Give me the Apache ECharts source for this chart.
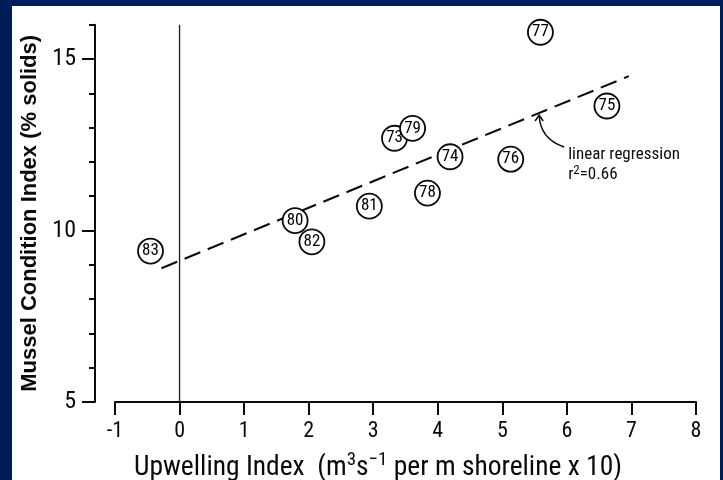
<!DOCTYPE html>
<html>
<head>
<meta charset="utf-8">
<script src="https://cdn.jsdelivr.net/npm/echarts@6/dist/echarts.min.js"></script>
<style>
  html, body { margin: 0; padding: 0; width: 723px; height: 480px; background: #001d59; overflow: hidden; }
  #panel { position: absolute; left: 12px; top: 6px; width: 708px; height: 474px; background: #ffffff; }
</style>
</head>
<body>
<div id="panel"></div>
<script>
// Yearly observations (19xx): upwelling index vs. mussel condition index
const years     = ['73', '74', '75', '76', '77', '78', '79', '80', '81', '82', '83'];
const upwelling = [3.33, 4.19, 6.62, 5.13, 5.59, 3.84, 3.61, 1.79, 2.94, 2.05, -0.45];
const condition = [12.69, 12.15, 13.63, 12.08, 15.78, 11.09, 12.98, 10.29, 10.71, 9.67, 9.40];

// Regression line end points
const fitX = [-0.28, 6.96];
const fitY = [8.90, 14.50];
const fitNoteX = 5.57;           // where the annotation arrow touches the line
const fitNote = ['linear regression', 'r{sup|2}=0.66'];

// Axis ticks
const xRange = [-1, 8];
const yRange = [5, 16];
const yMajorTicks = [5, 10, 15];
const yMinorTicks = [6, 7, 8, 9, 11, 12, 13, 14, 16];
const zeroLine = [[0, 5], [0, 16]];

const INK = '#0a0a0a';
const COND = '"Roboto Condensed", "Liberation Sans", Arial, sans-serif';
const SANS = '"Liberation Sans", Arial, sans-serif';

const chart = echarts.init(document.getElementById('panel'), null, { renderer: 'canvas' });

const points = years.map((y, i) => [upwelling[i], condition[i], y]);

chart.setOption({
  animation: false,
  backgroundColor: '#ffffff',
  grid: { left: 103, right: 24, top: 18.7, bottom: 78, containLabel: false, outerBoundsMode: 'none' },
  xAxis: {
    type: 'value', min: xRange[0], max: xRange[1], interval: 1,
    axisLine: { show: true, onZero: false, lineStyle: { color: INK, width: 2 } },
    axisTick: { show: true, length: 13, lineStyle: { color: INK, width: 2 } },
    axisLabel: { fontSize: 22, fontFamily: COND, color: INK, margin: 18 },
    splitLine: { show: false },
    name: 'Upwelling Index  (m{sup|3}s{sup|\u22121} per m shoreline x 10)',
    nameLocation: 'middle', nameGap: 49,
    nameTextStyle: {
      fontSize: 27.5, fontFamily: COND, color: INK, padding: [0, 55, 0, 0],
      rich: { sup: { fontSize: 19, fontFamily: COND, color: INK, padding: [0, 0, 15, 0] } }
    }
  },
  yAxis: [
    {
      type: 'value', min: yRange[0], max: yRange[1], position: 'left', offset: 20,
      axisLine: { show: true, onZero: false, lineStyle: { color: INK, width: 2 } },
      axisTick: { show: true, customValues: yMajorTicks, length: 13, lineStyle: { color: INK, width: 2 } },
      axisLabel: { customValues: yMajorTicks, fontSize: 24, fontFamily: COND, color: INK, margin: 19 },
      splitLine: { show: false },
      name: 'Mussel Condition Index (% solids)',
      nameLocation: 'middle', nameGap: 46,
      nameTextStyle: { fontSize: 22, fontWeight: 'bold', fontFamily: SANS, color: INK }
    },
    {
      type: 'value', min: yRange[0], max: yRange[1], position: 'left', offset: 20,
      axisLine: { show: false, onZero: false },
      axisTick: { show: true, customValues: yMinorTicks, length: 6, lineStyle: { color: INK, width: 2 } },
      axisLabel: { show: false },
      splitLine: { show: false }
    }
  ],
  series: [
    {
      name: 'zero', type: 'line', data: zeroLine, symbol: 'none', silent: true,
      lineStyle: { color: '#1a1a1a', width: 1.3 }, z: 1
    },
    {
      name: 'fit', type: 'line', data: fitX.map((x, i) => [x, fitY[i]]), symbol: 'none', silent: true,
      lineStyle: { color: INK, width: 2, type: [17, 8] }, z: 2
    },
    {
      name: 'years', type: 'scatter', data: points, symbol: 'circle', symbolSize: 25,
      itemStyle: { color: '#ffffff', borderColor: INK, borderWidth: 1.8, opacity: 1 },
      label: {
        show: true, position: 'inside', formatter: p => p.value[2],
        fontSize: 17, fontFamily: COND, color: '#000000'
      },
      z: 3
    }
  ]
});

// Curved arrow and caption pointing at the regression line
const slope = (fitY[1] - fitY[0]) / (fitX[1] - fitX[0]);
const tip = chart.convertToPixel({ gridIndex: 0 }, [fitNoteX, fitY[0] + slope * (fitNoteX - fitX[0])]);
const tx = tip[0], ty = tip[1] + 2;

chart.setOption({
  graphic: [
    {
      type: 'bezierCurve', silent: true,
      shape: { x1: tx, y1: ty, x2: tx + 25, y2: ty + 32, cpx1: tx + 1, cpy1: ty + 24 },
      style: { stroke: INK, lineWidth: 1.5, fill: null }
    },
    {
      type: 'polyline', silent: true,
      shape: { points: [[tx - 4, ty + 6], [tx, ty], [tx + 4, ty + 6]] },
      style: { stroke: INK, lineWidth: 1.5, fill: null }
    },
    {
      type: 'text', silent: true, x: tx + 29, y: ty + 30,
      style: {
        text: fitNote.join('\n'), fontSize: 17, fontFamily: COND, fill: INK, lineHeight: 20,
        rich: { sup: { fontSize: 13, fontFamily: COND, fill: INK, padding: [0, 0, 9, 0] } }
      }
    }
  ]
});
</script>
</body>
</html>
